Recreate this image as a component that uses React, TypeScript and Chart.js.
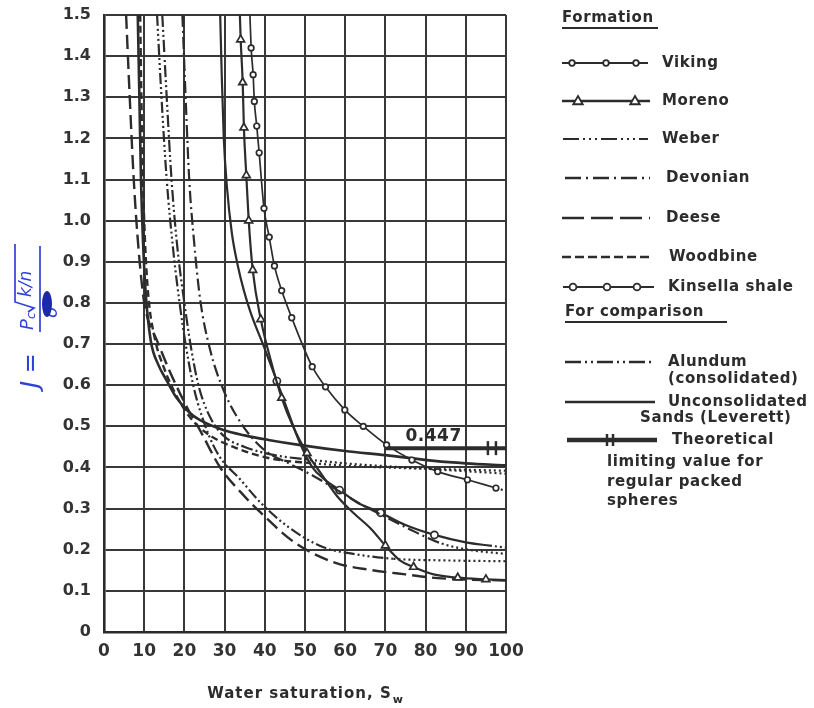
import React, { useEffect, useRef } from "react";
import { Chart, registerables } from "chart.js";

Chart.register(...registerables);

// ---- tick values ----
const xTickValues = [0, 10, 20, 30, 40, 50, 60, 70, 80, 90, 100];
const yTickValues = [0, 0.1, 0.2, 0.3, 0.4, 0.5, 0.6, 0.7, 0.8, 0.9, 1.0, 1.1, 1.2, 1.3, 1.4, 1.5];

// ---- series (water saturation %, J) ----
const vikingSw = [36.3, 36.6, 37.1, 37.4, 38, 38.6, 39.8, 41.1, 42.4, 44.2, 46.7, 51.8, 55.1, 59.9, 64.5, 70.3, 76.6, 83, 90.4, 97.5, 100];
const vikingJ = [1.5, 1.42, 1.355, 1.29, 1.23, 1.165, 1.03, 0.96, 0.89, 0.83, 0.764, 0.645, 0.596, 0.54, 0.5, 0.455, 0.418, 0.39, 0.37, 0.35, 0.343];

const morenoSw = [33.8, 34, 34.5, 34.8, 35.4, 36, 37, 39, 41.5, 44.2, 47, 50.5, 54, 58, 62, 66.5, 70, 73.5, 77, 82, 88, 95, 100];
const morenoJ = [1.5, 1.44, 1.336, 1.226, 1.11, 1.0, 0.88, 0.76, 0.66, 0.569, 0.5, 0.435, 0.385, 0.33, 0.29, 0.25, 0.21, 0.175, 0.158, 0.14, 0.132, 0.128, 0.126];

const weberSw = [13.2, 14.3, 15.6, 17.2, 18.8, 20.3, 22.2, 24.5, 28.2, 34, 39, 45.9, 54.3, 62, 72, 85, 100];
const weberJ = [1.5, 1.3, 1.1, 0.93, 0.8, 0.7, 0.6, 0.52, 0.435, 0.37, 0.314, 0.255, 0.207, 0.19, 0.178, 0.174, 0.172];

const devonianSw = [19.5, 20.3, 21.2, 22.4, 23.9, 26.4, 29.7, 34, 39.8, 46, 52, 58, 64, 70, 76, 84, 92, 100];
const devonianJ = [1.5, 1.3, 1.1, 0.95, 0.81, 0.686, 0.589, 0.509, 0.443, 0.41, 0.38, 0.345, 0.31, 0.28, 0.25, 0.215, 0.198, 0.19];

const deeseSw = [5.5, 6.4, 7.4, 8.6, 10, 11.3, 12.9, 16.2, 20.6, 23.9, 28.9, 34, 39, 47.5, 57.6, 66.2, 75, 83, 100];
const deeseJ = [1.5, 1.3, 1.1, 0.93, 0.8, 0.75, 0.715, 0.637, 0.547, 0.49, 0.4, 0.34, 0.29, 0.217, 0.168, 0.151, 0.14, 0.131, 0.125];

const woodbineSw = [9, 9.3, 9.7, 10.2, 11, 12.5, 15, 18, 21.3, 26, 32.2, 40.9, 51, 65, 80, 100];
const woodbineJ = [1.5, 1.3, 1.1, 0.95, 0.82, 0.72, 0.64, 0.575, 0.523, 0.48, 0.45, 0.423, 0.411, 0.402, 0.397, 0.392];

const kinsellaSw = [28.9, 29.3, 29.8, 30.6, 31.8, 33.3, 34.8, 36.5, 39.8, 43, 45.9, 48.5, 51.8, 55, 58.6, 63, 68.8, 75, 82.2, 90, 96, 100];
const kinsellaJ = [1.5, 1.35, 1.2, 1.08, 0.97, 0.89, 0.83, 0.776, 0.693, 0.61, 0.533, 0.465, 0.401, 0.37, 0.345, 0.315, 0.29, 0.26, 0.236, 0.218, 0.21, 0.205];

const alundumSw = [14.5, 15.6, 16.8, 18.3, 20, 21.5, 23.5, 26.5, 30, 35, 42.4, 50, 60, 75, 100];
const alundumJ = [1.5, 1.3, 1.1, 0.93, 0.8, 0.7, 0.6, 0.52, 0.475, 0.45, 0.43, 0.42, 0.41, 0.4, 0.385];

const leverettSw = [8.4, 8.8, 9.2, 9.7, 10.4, 11.6, 13.5, 15.5, 18, 21.3, 23.9, 29.7, 35, 40.9, 48.5, 60, 70, 82.2, 90, 100];
const leverettJ = [1.5, 1.3, 1.1, 0.95, 0.82, 0.71, 0.65, 0.613, 0.57, 0.533, 0.515, 0.491, 0.478, 0.467, 0.455, 0.44, 0.43, 0.416, 0.41, 0.405];

const theoreticalSw = [70, 95.5, 97.5, 100];
const theoreticalJ = [0.447, 0.447, 0.447, 0.447];
const theoreticalLabel = "0.447";
const theoreticalLabelSw = 82;
const theoreticalLabelJ = 0.474;

const INK = "#2c2c2c";
const GRID = "#383838";
const BLUE = "#2f43d6";
const FONT = "'DejaVu Sans', 'Liberation Sans', sans-serif";

const toPts = (xs: number[], ys: number[]) => xs.map((x, i) => ({ x, y: ys[i] }));

type CurveDef = {
  label: string;
  sw: number[];
  j: number[];
  dash: number[];
  width: number;
  dotFrom?: number;
  marker?: "circle" | "triangle" | "line";
  r?: number;
  markerIdx?: number[];
  rotation?: number;
};

const range = (a: number, b: number) => {
  const out: number[] = [];
  for (let i = a; i <= b; i++) out.push(i);
  return out;
};

const curves: CurveDef[] = [
  { label: "Viking", sw: vikingSw, j: vikingJ, dash: [], width: 1.7, dotFrom: 97, marker: "circle", r: 2.8, markerIdx: range(1, 19) },
  { label: "Moreno", sw: morenoSw, j: morenoJ, dash: [], width: 2.2, marker: "triangle", r: 4.5, markerIdx: [1, 2, 3, 4, 5, 6, 7, 9, 11, 16, 18, 20, 21] },
  { label: "Weber", sw: weberSw, j: weberJ, dash: [11, 3, 2, 3, 2, 3, 2, 3], width: 2.2, dotFrom: 72 },
  { label: "Devonian", sw: devonianSw, j: devonianJ, dash: [12, 4, 2, 4], width: 2.2, dotFrom: 84 },
  { label: "Deese", sw: deeseSw, j: deeseJ, dash: [14, 6], width: 2.4 },
  { label: "Woodbine", sw: woodbineSw, j: woodbineJ, dash: [7, 4], width: 2.4, dotFrom: 51 },
  { label: "Kinsella shale", sw: kinsellaSw, j: kinsellaJ, dash: [], width: 2.2, dotFrom: 96, marker: "circle", r: 3.6, markerIdx: [9, 14, 16, 18] },
  { label: "Alundum", sw: alundumSw, j: alundumJ, dash: [12, 3, 2, 3, 2, 3], width: 2.2, dotFrom: 50 },
  { label: "Leverett", sw: leverettSw, j: leverettJ, dash: [], width: 2.6 },
  { label: "Theoretical", sw: theoreticalSw, j: theoreticalJ, dash: [], width: 4, marker: "line", r: 7, markerIdx: [1, 2], rotation: 90 },
];

// ---------- legend drawing ----------
type LegendItem = {
  y: number;
  x1: number;
  x2: number;
  dash: number[];
  width: number;
  marker?: "circle" | "triangle" | "tick";
  markerXs?: number[];
  r?: number;
  lines: { text: string; x: number; dy: number }[];
};

const legendItems: LegendItem[] = [
  { y: 63, x1: 562, x2: 648, dash: [], width: 2, marker: "circle", markerXs: [572, 606, 636], r: 2.8, lines: [{ text: "Viking", x: 662, dy: 0 }] },
  { y: 101, x1: 562, x2: 650, dash: [], width: 2.4, marker: "triangle", markerXs: [578, 635], r: 5, lines: [{ text: "Moreno", x: 662, dy: 0 }] },
  { y: 139, x1: 563, x2: 648, dash: [16, 4, 2, 4, 2, 4, 2, 4], width: 2.2, lines: [{ text: "Weber", x: 662, dy: 0 }] },
  { y: 178, x1: 565, x2: 650, dash: [16, 5, 2, 5], width: 2.4, lines: [{ text: "Devonian", x: 666, dy: 0 }] },
  { y: 218, x1: 562, x2: 650, dash: [22, 7], width: 2.6, lines: [{ text: "Deese", x: 666, dy: 0 }] },
  { y: 257, x1: 562, x2: 653, dash: [9, 4], width: 2.6, lines: [{ text: "Woodbine", x: 669, dy: 0 }] },
  { y: 287, x1: 563, x2: 654, dash: [], width: 2.2, marker: "circle", markerXs: [573, 607, 637], r: 3.4, lines: [{ text: "Kinsella shale", x: 668, dy: 0 }] },
  { y: 362, x1: 565, x2: 655, dash: [16, 4, 2, 4, 2, 4], width: 2.4, lines: [{ text: "Alundum", x: 668, dy: 0 }, { text: "(consolidated)", x: 668, dy: 17 }] },
  { y: 402, x1: 565, x2: 655, dash: [], width: 2.4, lines: [{ text: "Unconsolidated", x: 668, dy: 0 }, { text: "Sands (Leverett)", x: 640, dy: 16 }] },
  {
    y: 440, x1: 567, x2: 657, dash: [], width: 4.5, marker: "tick", markerXs: [607, 613], r: 6,
    lines: [
      { text: "Theoretical", x: 672, dy: 0 },
      { text: "limiting value for", x: 607, dy: 22 },
      { text: "regular packed", x: 607, dy: 42 },
      { text: "spheres", x: 607, dy: 61 },
    ],
  },
];

const headers = [
  { text: "Formation", x: 562, y: 18, ux: 562, uw: 96, uy: 28 },
  { text: "For comparison", x: 565, y: 312, ux: 565, uw: 162, uy: 322 },
];

function drawTriangle(ctx: CanvasRenderingContext2D, x: number, y: number, r: number) {
  ctx.beginPath();
  ctx.moveTo(x, y - r);
  ctx.lineTo(x + r * 0.95, y + r * 0.65);
  ctx.lineTo(x - r * 0.95, y + r * 0.65);
  ctx.closePath();
  ctx.fill();
  ctx.stroke();
}

const overlayPlugin = {
  id: "overlay",
  beforeDraw(chart: any) {
    const ctx: CanvasRenderingContext2D = chart.ctx;
    ctx.save();
    ctx.fillStyle = "#ffffff";
    ctx.fillRect(0, 0, chart.width, chart.height);
    ctx.restore();
  },
  afterDraw(chart: any) {
    const ctx: CanvasRenderingContext2D = chart.ctx;
    const xs = chart.scales.x;
    const ys = chart.scales.y;
    ctx.save();

    // 0.447 label
    ctx.fillStyle = INK;
    ctx.font = `bold 17px ${FONT}`;
    (ctx as any).letterSpacing = "0.5px";
    ctx.textAlign = "center";
    ctx.textBaseline = "middle";
    ctx.fillText(theoreticalLabel, xs.getPixelForValue(theoreticalLabelSw), ys.getPixelForValue(theoreticalLabelJ));

    // x axis title with subscript
    ctx.font = `bold 15px ${FONT}`;
    (ctx as any).letterSpacing = "1px";
    ctx.textAlign = "left";
    ctx.textBaseline = "alphabetic";
    const main = "Water saturation, S";
    const mw = ctx.measureText(main).width;
    ctx.font = `bold 11px ${FONT}`;
    const sw = ctx.measureText("w").width;
    const cx = (chart.chartArea.left + chart.chartArea.right) / 2;
    const startX = cx - (mw + sw) / 2;
    ctx.font = `bold 15px ${FONT}`;
    ctx.fillText(main, startX, 698);
    ctx.font = `bold 11px ${FONT}`;
    ctx.fillText("w", startX + mw + 1, 703);

    // handwritten blue y title
    ctx.save();
    ctx.translate(38, 318);
    ctx.rotate(-Math.PI / 2);
    ctx.fillStyle = BLUE;
    ctx.strokeStyle = BLUE;
    (ctx as any).letterSpacing = "0px";
    ctx.font = `italic 24px ${FONT}`;
    ctx.textBaseline = "middle";
    ctx.textAlign = "left";
    ctx.fillText("J =", -70, -6);
    ctx.font = `italic 18px ${FONT}`;
    ctx.fillText("P", -12, -10);
    ctx.font = `italic 12px ${FONT}`;
    ctx.fillText("c", -1, -6);
    ctx.lineWidth = 1.7;
    ctx.beginPath();
    ctx.moveTo(6, -10);
    ctx.lineTo(10, -4);
    ctx.lineTo(16, -23);
    ctx.lineTo(74, -23);
    ctx.stroke();
    ctx.font = `italic 17px ${FONT}`;
    ctx.fillText("k/n", 21, -11);
    ctx.beginPath();
    ctx.moveTo(-14, 2);
    ctx.lineTo(72, 2);
    ctx.stroke();
    ctx.font = `italic 18px ${FONT}`;
    ctx.fillText("σ", 0, 14);
    ctx.restore();
    // blob of ink
    ctx.save();
    ctx.fillStyle = "#1c2aa8";
    ctx.beginPath();
    ctx.ellipse(47, 304, 5, 13, 0, 0, Math.PI * 2);
    ctx.fill();
    ctx.restore();

    // legend headers
    ctx.fillStyle = INK;
    ctx.strokeStyle = INK;
    ctx.font = `bold 15px ${FONT}`;
    (ctx as any).letterSpacing = "0.6px";
    ctx.textAlign = "left";
    ctx.textBaseline = "middle";
    for (const h of headers) {
      ctx.fillText(h.text, h.x, h.y);
      ctx.lineWidth = 2.2;
      ctx.setLineDash([]);
      ctx.beginPath();
      ctx.moveTo(h.ux, h.uy);
      ctx.lineTo(h.ux + h.uw, h.uy);
      ctx.stroke();
    }

    // legend items
    for (const it of legendItems) {
      ctx.strokeStyle = INK;
      ctx.lineWidth = it.width;
      ctx.setLineDash(it.dash);
      ctx.beginPath();
      ctx.moveTo(it.x1, it.y);
      ctx.lineTo(it.x2, it.y);
      ctx.stroke();
      ctx.setLineDash([]);
      if (it.marker && it.markerXs) {
        ctx.lineWidth = 1.8;
        ctx.fillStyle = "#ffffff";
        for (const mx of it.markerXs) {
          if (it.marker === "circle") {
            ctx.beginPath();
            ctx.arc(mx, it.y, it.r || 3, 0, Math.PI * 2);
            ctx.fill();
            ctx.stroke();
          } else if (it.marker === "triangle") {
            drawTriangle(ctx, mx, it.y, it.r || 5);
          } else if (it.marker === "tick") {
            ctx.lineWidth = 2.5;
            ctx.beginPath();
            ctx.moveTo(mx, it.y - (it.r || 6));
            ctx.lineTo(mx, it.y + (it.r || 6));
            ctx.stroke();
          }
        }
      }
      ctx.fillStyle = INK;
      ctx.font = `bold 15px ${FONT}`;
      for (const ln of it.lines) {
        ctx.fillText(ln.text, ln.x, it.y + ln.dy);
      }
    }
    ctx.restore();
  },
};

export default function App() {
  const ref = useRef<HTMLCanvasElement | null>(null);

  useEffect(() => {
    if (!ref.current) return;
    const datasets = curves.map((c) => {
      const marks = new Set(c.markerIdx || []);
      const dash = c.dash;
      const dotFrom = c.dotFrom;
      return {
        label: c.label,
        data: toPts(c.sw, c.j),
        borderColor: INK,
        borderWidth: c.width,
        borderDash: dash,
        cubicInterpolationMode: "monotone" as const,
        fill: false,
        pointStyle: c.marker === "triangle" ? "triangle" : c.marker === "line" ? "line" : "circle",
        pointRotation: c.rotation || 0,
        pointRadius: (ctx: any) => (marks.has(ctx.dataIndex) ? c.r || 3 : 0),
        pointBackgroundColor: "#ffffff",
        pointBorderColor: INK,
        pointBorderWidth: c.marker === "line" ? 2.5 : 1.7,
        segment: {
          borderDash: (ctx: any) => (dotFrom !== undefined && ctx.p0.parsed.x >= dotFrom ? [2, 3] : dash),
          borderWidth: (ctx: any) => (dotFrom !== undefined && ctx.p0.parsed.x >= dotFrom ? 2.2 : c.width),
        },
      };
    });

    const chart = new Chart(ref.current, {
      type: "line",
      data: { datasets } as any,
      options: {
        animation: false,
        responsive: false,
        maintainAspectRatio: false,
        layout: { padding: { left: 0, right: 308, top: 15, bottom: 0 } },
        plugins: { legend: { display: false }, tooltip: { enabled: false }, title: { display: false } },
        elements: { line: { tension: 0 } },
        scales: {
          x: {
            type: "linear",
            min: 0,
            max: 100,
            afterBuildTicks: (s: any) => {
              s.ticks = xTickValues.map((v) => ({ value: v }));
            },
            afterFit: (s: any) => {
              s.height = 76;
              s.paddingLeft = 0;
              s.paddingRight = 0;
            },
            ticks: {
              color: "#333",
              padding: 9,
              font: { family: FONT, weight: "bold", size: 17 },
              callback: (v: any) => String(v),
              maxRotation: 0,
              autoSkip: false,
            },
            grid: { color: GRID, lineWidth: 2, drawTicks: false },
            border: { color: "#2a2a2a", width: 2.6 },
          },
          y: {
            type: "linear",
            min: 0,
            max: 1.5,
            afterBuildTicks: (s: any) => {
              s.ticks = yTickValues.map((v) => ({ value: v }));
            },
            afterFit: (s: any) => {
              s.width = 104;
              s.paddingTop = 0;
              s.paddingBottom = 0;
            },
            ticks: {
              color: "#333",
              padding: 13,
              font: { family: FONT, weight: "bold", size: 16 },
              callback: (v: any) => (Number(v) === 0 ? "0" : Number(v).toFixed(1)),
              autoSkip: false,
            },
            grid: { color: GRID, lineWidth: 2, drawTicks: false },
            border: { color: "#2a2a2a", width: 2.6 },
          },
        },
      } as any,
      plugins: [overlayPlugin as any],
    });
    return () => chart.destroy();
  }, []);

  return (
    <div style={{ position: "fixed", left: 0, top: 0, width: 814, height: 708, background: "#fff" }}>
      <canvas ref={ref} width={814} height={708} style={{ width: 814, height: 708, display: "block" }} />
    </div>
  );
}
